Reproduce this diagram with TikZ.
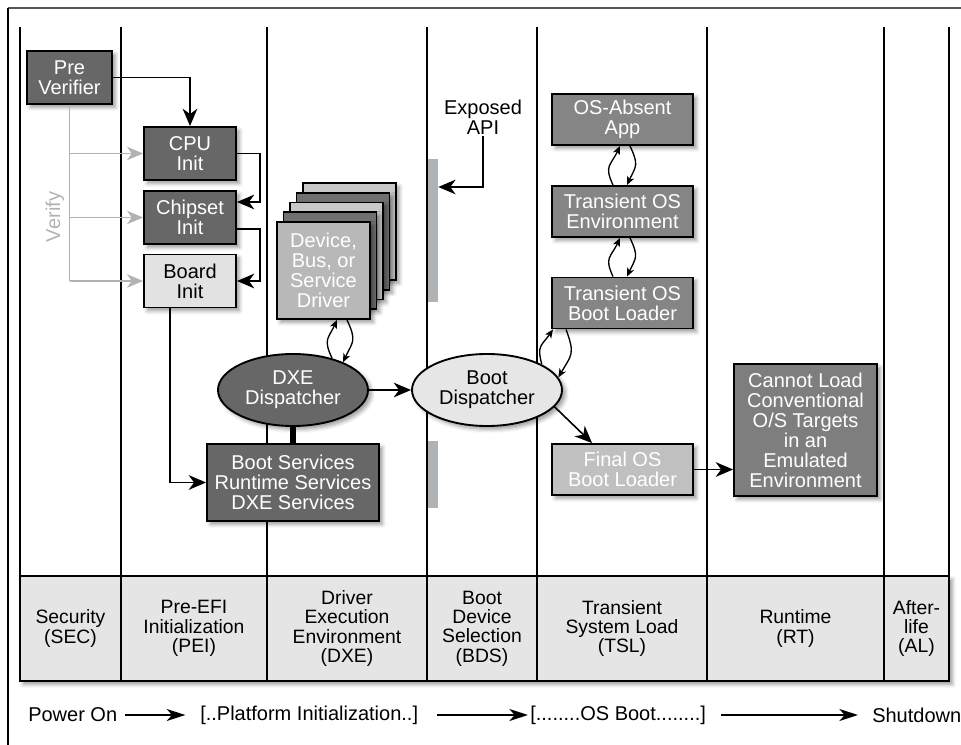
\documentclass[tikz,border=0pt]{standalone}
\usepackage{fontspec}
\setmainfont{Liberation Sans}
\usetikzlibrary{arrows.meta,shadows.blur,calc,shapes.geometric}
\definecolor{darkbox}{HTML}{676767}
\definecolor{boardfill}{HTML}{E2E2E2}
\definecolor{tslgray}{HTML}{858585}
\definecolor{finalfill}{HTML}{C0C0C0}
\definecolor{cannotfill}{HTML}{7E7E7E}
\definecolor{bdfill}{HTML}{E6E6E6}
\definecolor{barfill}{HTML}{B0B3B6}
\definecolor{verifygray}{HTML}{B2B2B2}
\definecolor{tablefill}{HTML}{E5E5E5}
\definecolor{framegray}{HTML}{555555}
\definecolor{drvfront}{HTML}{B8B8B8}
\definecolor{drvlight}{HTML}{C8C8C8}
\definecolor{drvdark}{HTML}{707070}
\begin{document}
\begin{tikzpicture}[x=0.75pt,y=-0.75pt,
  shad/.style={blur shadow={shadow xshift=2.5pt,shadow yshift=-2.5pt,shadow blur radius=3pt,shadow opacity=40}},
  box/.style={draw=black,line width=1.4pt,rectangle,align=center,inner sep=0pt,
    font=\fontsize{15}{15}\selectfont,text=white,shad},
  ell/.style={draw=black,line width=1.4pt,ellipse,align=center,inner sep=0pt,
    minimum width=112.5pt,minimum height=54pt,font=\fontsize{15}{15}\selectfont,text=white,shad},
  layer/.style={draw=black,line width=1.4pt,rectangle,inner sep=0pt,
    minimum width=69.75pt,minimum height=72.75pt,shad},
  bar/.style={fill=barfill,draw=none,inner sep=0pt,minimum width=7.5pt},
  arr/.style={-{Stealth[length=13pt,width=11pt,inset=4pt]},line width=1.2pt},
  varr/.style={-{Stealth[length=12pt,width=10pt,inset=3.5pt]},line width=1.3pt,draw=verifygray},
  larr/.style={-{Stealth[length=6.5pt,width=5.5pt,inset=1.8pt]},line width=1pt,looseness=1.4},
  barr/.style={-{Stealth[length=14pt,width=9pt,inset=4pt]},line width=1.2pt},
  lane/.style={line width=1.5pt,draw=black},
  tcell/.style={align=center,inner sep=0pt,font=\fontsize{14.5}{14.5}\selectfont},
  btxt/.style={inner sep=0pt,anchor=west,font=\fontsize{15}{15}\selectfont}
]
\useasboundingbox (0,0) rectangle (961,745);
% frame
\draw[draw=framegray,line width=1.6pt] (8,8) -- (961,8);
\draw[line width=1pt] (8,8) -- (8,745);

% phase table
\node[draw=black,line width=1.4pt,fill=tablefill,inner sep=0pt,
  minimum width=696.75pt,minimum height=78.75pt,shad] (tbl) at (484.5,628.5) {};
% lane lines
\foreach \x in {20,121,267,427,537,707,884,949}
  \draw[lane] (\x,27) -- (\x,681);

% table texts
\node[tcell] (sec) at (70.5,628.5) {Security\\(SEC)};
\node[tcell] (pei) at (194,628.5) {Pre-EFI\\Initialization\\(PEI)};
\node[tcell] (dxeph) at (347,628.5) {Driver\\Execution\\Environment\\(DXE)};
\node[tcell] (bds) at (482,628.5) {Boot\\Device\\Selection\\(BDS)};
\node[tcell] (tsl) at (622,628.5) {Transient\\System Load\\(TSL)};
\node[tcell] (rt) at (795.5,628.5) {Runtime\\(RT)};
\node[tcell] (al) at (916.5,628.5) {After-\\life\\(AL)};

% bottom line
\node[btxt] (pon) at (28,715) {Power On};
\node[btxt] (pinit) at (200,715) {[..Platform Initialization..]};
\node[btxt] (osb) at (530,715) {[........OS Boot........]};
\node[btxt] (sd) at (872,715) {Shutdown};
\draw[barr,shorten <=6pt,shorten >=11pt] (pon.east) -- (pinit.west);
\draw[barr,shorten <=14pt,shorten >=1.5pt] (pinit.east) -- (osb.west);
\draw[barr,shorten <=11pt,shorten >=10.5pt] (osb.east) -- (sd.west);

% SEC
\node[box,fill=darkbox,minimum width=63.75pt,minimum height=39.75pt] (pv) at (69.5,77.5) {Pre\\Verifier};
% PEI
\node[box,fill=darkbox,minimum width=69pt,minimum height=39.75pt] (cpu) at (190,153.5) {CPU\\Init};
\node[box,fill=darkbox,minimum width=69pt,minimum height=39.75pt] (chip) at (190,217.5) {Chipset\\Init};
\node[box,fill=boardfill,text=black,minimum width=69pt,minimum height=39.75pt] (board) at (190,281) {Board\\Init};

% verify
\node[rotate=90,text=verifygray,inner sep=0pt,font=\fontsize{15}{15}\selectfont] (vtxt) at (55,217) {Verify};
\draw[line width=1.3pt,draw=verifygray] (pv.south) -- (pv.south |- board.west);
\draw[varr] (pv.south |- cpu.west) -- (cpu.west);
\draw[varr] (pv.south |- chip.west) -- (chip.west);
\draw[varr] (pv.south |- board.west) -- (board.west);

\draw[arr] (pv.east) -| (cpu.north);
\draw[arr] (cpu.east) -- ++(23,0) |- ($(chip.east)+(0,-15.5)$);
\draw[arr] ($(chip.east)+(0,11.5)$) -- ++(23,0) |- (board.east);

% DXE
\foreach \k/\c in {4/drvlight,3/drvdark,2/drvlight,1/drvdark}
  \node[layer,fill=\c] (drv\k) at ($(323.5,270.5)+(6.5*\k,-9.75*\k)$) {};
\node[layer,fill=drvfront,text=white,align=center,font=\fontsize{15}{15}\selectfont] (drv) at (323.5,270.5) {Device,\\Bus, or\\Service\\Driver};

\node[box,fill=darkbox,minimum width=129pt,minimum height=57.75pt] (bs) at (293,482.5) {Boot Services\\Runtime Services\\DXE Services};
\node[ell,fill=darkbox] (dxe) at (293,390) {DXE\\Dispatcher};
\draw[line width=4.5pt] (dxe.south) -- (bs.north);
\draw[arr] ($(board.south)+(-20,0)$) |- (bs.west);

\draw[larr] (dxe.39) to[out=115,in=245] ($(drv.south)+(13.5,0)$);
\draw[larr] ($(drv.south)+(23.5,0)$) to[out=-65,in=65] (dxe.29);

% BDS
\node[ell,fill=bdfill,text=black] (bd) at (487,390) {Boot\\Dispatcher};
\draw[arr] (dxe.east) -- (bd.west);
\node[bar,minimum height=107.25pt] (bar1) at (433,230.5) {};
\node[bar,minimum height=50.25pt] (bar2) at (433,474.5) {};
\node[align=center,inner sep=1pt,font=\fontsize{15}{15}\selectfont] (api) at (483,117) {Exposed\\API};
\draw[arr] (api.south) |- ($(bar1.east)+(0,-43.5)$);

% TSL
\node[box,fill=tslgray,minimum width=105.75pt,minimum height=38.25pt] (osa) at (622.5,119.5) {OS-Absent\\App};
\node[box,fill=tslgray,minimum width=105.75pt,minimum height=38.25pt] (toe) at (622.5,211.5) {Transient OS\\Environment};
\node[box,fill=tslgray,minimum width=105.75pt,minimum height=38.25pt] (tol) at (622.5,303) {Transient OS\\Boot Loader};
\node[box,fill=finalfill,minimum width=105.75pt,minimum height=38.25pt] (fos) at (622.5,469.5) {Final OS\\Boot Loader};

\draw[larr] ($(toe.north)+(-9.5,0)$) to[out=115,in=245] ($(osa.south)+(-2.5,0)$);
\draw[larr] ($(osa.south)+(7.5,0)$) to[out=-65,in=65] ($(toe.north)+(4.5,0)$);
\draw[larr] ($(tol.north)+(-9.5,0)$) to[out=115,in=245] ($(toe.south)+(-2.5,0)$);
\draw[larr] ($(toe.south)+(7.5,0)$) to[out=-65,in=65] ($(tol.north)+(4.5,0)$);
\draw[larr] (bd.25) to[out=105,in=235] ($(tol.south west)+(2,0)$);
\draw[larr] ($(tol.south west)+(15,0)$) to[out=-70,in=60] (bd.10);

\draw[arr] (bd.-14) -- ($(fos.north west)+(41,0)$);

% RT
\node[box,fill=cannotfill,minimum width=107.25pt,minimum height=99pt] (cl) at (805.5,430) {Cannot Load\\Conventional\\O/S Targets\\in an\\Emulated\\Environment};
\draw[arr] (fos.east) -- (fos.east -| cl.west);
\end{tikzpicture}
\end{document}
